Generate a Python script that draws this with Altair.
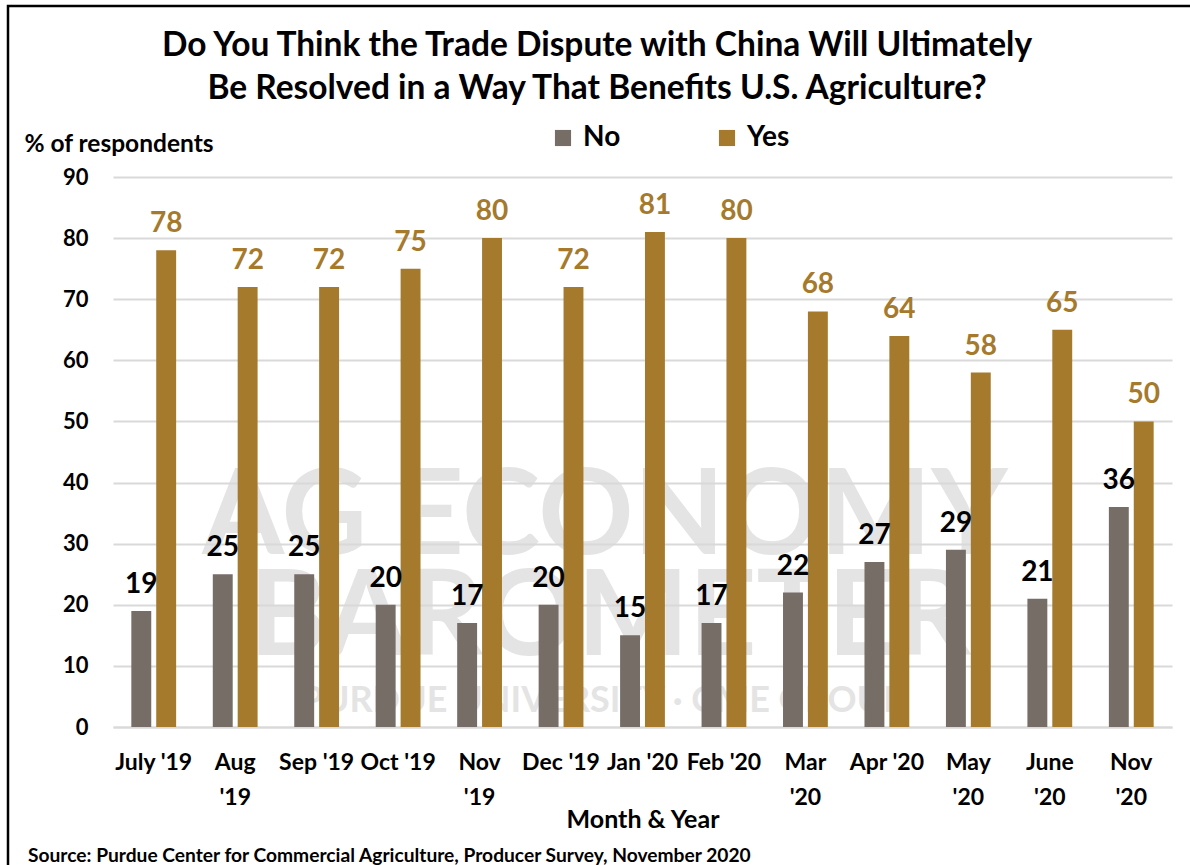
import altair as alt
import pandas as pd

months = ["July '19", "Aug|'19", "Sep '19", "Oct '19", "Nov|'19", "Dec '19",
          "Jan '20", "Feb '20", "Mar|'20", "Apr '20", "May|'20", "June|'20", "Nov|'20"]
no_vals = [19, 25, 25, 20, 17, 20, 15, 17, 22, 27, 29, 21, 36]
yes_vals = [78, 72, 72, 75, 80, 72, 81, 80, 68, 64, 58, 65, 50]
series = ["No", "Yes"]
colors = ["#766D67", "#A57A2C"]

title_lines = ["Do You Think the Trade Dispute with China Will Ultimately",
               "Be Resolved in a Way That Benefits U.S. Agriculture?"]
y_title = "% of respondents"
x_title = "Month & Year"
source = "Source: Purdue Center for Commercial Agriculture, Producer Survey, November 2020"
watermark_words = ["AG ECONOMY", "BAROMETER", "PURDUE UNIVERSITY · CME GROUP"]

FONT = "Lato"

rows = []
for m, n, y in zip(months, no_vals, yes_vals):
    rows.append({"month": m, "series": "No", "value": n})
    rows.append({"month": m, "series": "Yes", "value": y})
df = pd.DataFrame(rows)

W, H = 1059, 550

x_enc = alt.X("month:N", sort=months,
              scale=alt.Scale(paddingInner=0.45, paddingOuter=0.225),
              axis=alt.Axis(title=x_title, labelExpr="split(datum.value, '|')",
                            labelAngle=0, labelFontSize=23, labelFont=FONT,
                            labelFontWeight="bold", labelColor="black",
                            labelLineHeight=35, labelPadding=24, ticks=False,
                            domainColor="#d9d9d9", domainWidth=2,
                            titleFontSize=25, titleFont=FONT, titleFontWeight="bold",
                            titleColor="black", titleY=100, titleBaseline="alphabetic"))
xoff = alt.XOffset("series:N", scale=alt.Scale(domain=series, paddingInner=0.2, paddingOuter=0))
y_enc = alt.Y("value:Q", scale=alt.Scale(domain=[0, 90]),
              axis=alt.Axis(title=y_title, values=list(range(0, 91, 10)), ticks=False,
                            domain=False, gridColor="#d9d9d9", gridWidth=2,
                            labelFontSize=22, labelFont=FONT, labelFontWeight="bold",
                            labelColor="black", labelPadding=25,
                            titleAngle=0, titleAlign="left", titleX=-89, titleY=-26,
                            titleBaseline="alphabetic", titleFontSize=24.5, titleFont=FONT,
                            titleFontWeight="bold", titleColor="black"))

base = alt.Chart(df)

bars = base.mark_bar().encode(
    x=x_enc, xOffset=xoff, y=y_enc,
    color=alt.Color("series:N", scale=alt.Scale(domain=series, range=colors),
                    legend=alt.Legend(title=None, orient="none", direction="horizontal",
                                      legendX=436, legendY=-53, symbolType="square",
                                      symbolSize=260, symbolStrokeWidth=0,
                                      labelFontSize=28, labelFont=FONT,
                                      labelFontWeight="bold", labelColor="black",
                                      columnPadding=92, labelOffset=6)),
)

def labels(s, col):
    return base.transform_filter(alt.datum.series == s).mark_text(
        baseline="alphabetic", dy=-18, fontSize=28, font=FONT, fontWeight="bold", color=col
    ).encode(x=alt.X("month:N", sort=months), xOffset=xoff, y="value:Q", text="value:Q")

lab_no = labels("No", "black")
lab_yes = labels("Yes", colors[1])

# watermark text (background logo words)
wm = pd.DataFrame({"t": watermark_words,
                   "px": [492, 497, 490], "py": [377, 478, 535], "fs": [118, 118, 36]})
watermark = alt.Chart(wm).mark_text(font=FONT, fontWeight="bold", color="#d9d9d9",
                                    baseline="alphabetic", opacity=0.7).encode(
    text="t:N", x=alt.X("px:Q", scale=None), y=alt.Y("py:Q", scale=None),
    size=alt.Size("fs:Q", scale=None, legend=None))

title_df = pd.DataFrame({"t": title_lines, "py": [-121, -78]})
title = alt.Chart(title_df).mark_text(font=FONT, fontWeight="bold", fontSize=33.5,
                                      color="black", baseline="alphabetic").encode(
    text="t:N", x=alt.value(597 - 113), y=alt.Y("py:Q", scale=None))

src = alt.Chart(pd.DataFrame({"t": [source]})).mark_text(
    font=FONT, fontWeight="bold", fontSize=19.2, color="black", align="left",
    baseline="alphabetic").encode(text="t:N", x=alt.value(28 - 113), y=alt.value(862 - 177))

frame = alt.Chart(pd.DataFrame({"a": [0]})).mark_rect(
    filled=False, stroke="black", strokeWidth=2.5).encode(
    x=alt.value(8 - 113), x2=alt.value(1190), y=alt.value(6 - 177), y2=alt.value(900))

chart = alt.layer(watermark, bars, lab_no, lab_yes, title, src, frame).properties(
    width=W, height=H,
    padding={"left": 113, "top": 177, "right": 18, "bottom": 138},
    autosize=alt.AutoSizeParams(type="none"),
    background="white",
).configure_view(stroke=None)

chart.save("out.html", embed_options={"renderer": "svg", "actions": False})
